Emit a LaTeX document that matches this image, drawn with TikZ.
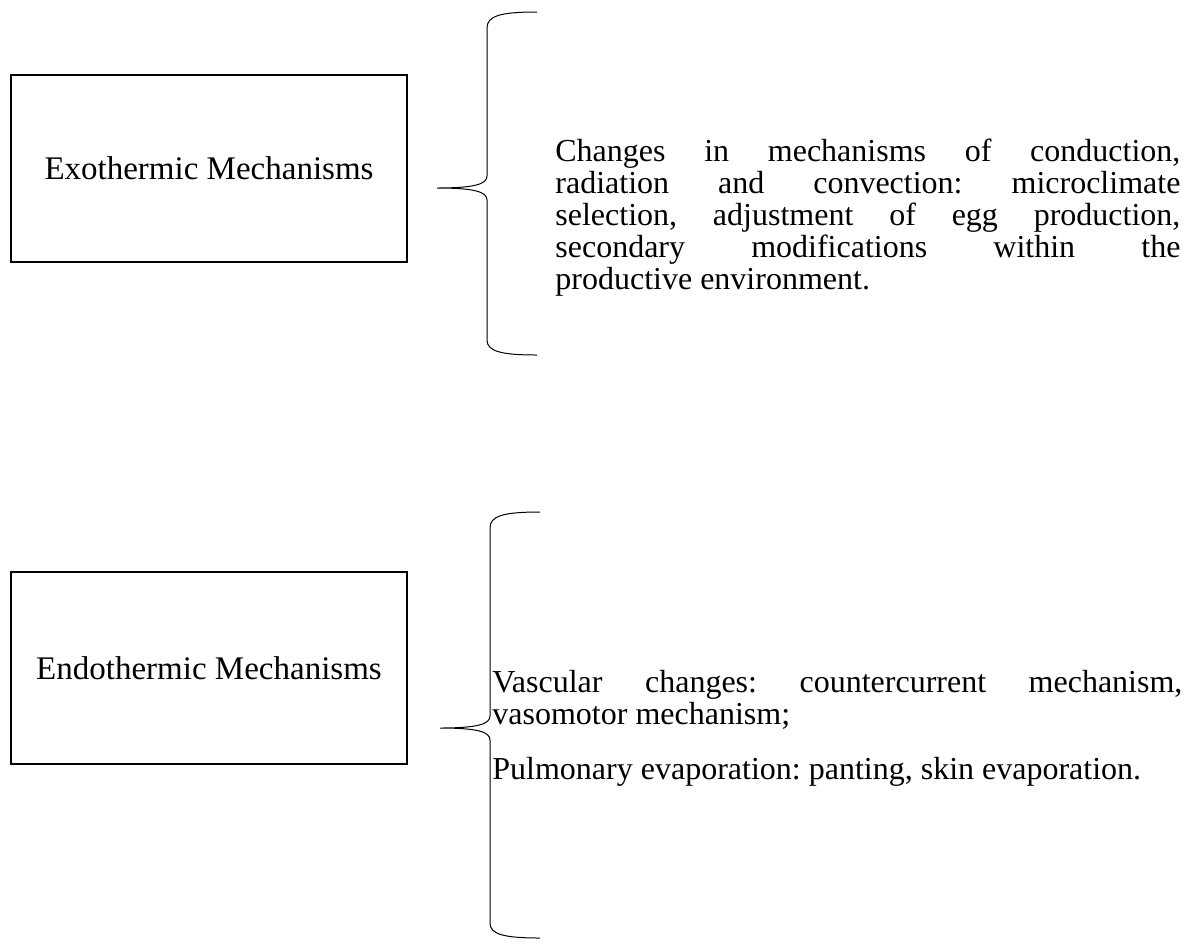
\documentclass[tikz,border=0pt]{standalone}
\usepackage{fontspec}
\setmainfont{Liberation Serif}
\usetikzlibrary{positioning,calc}
\frenchspacing

\begin{document}
\begin{tikzpicture}[
  x=0.5pt, y=-0.5pt,
  mechbox/.style={draw, line width=0.8pt, minimum width=198pt, minimum height=93.5pt,
    inner sep=0pt, font=\fontsize{16.5}{17}\selectfont},
  bracetext/.style={anchor=north west, inner sep=0pt, align=justify,
    font=\fontsize{16}{16}\selectfont},
  curly/.style={line width=0.5pt},
]
\useasboundingbox (0,0) rectangle (1189,943);

% ===== Exothermic =====
\node[mechbox] (exo) at (209,168.5) {Exothermic Mechanisms};
\coordinate (exotip) at (437,188);
\draw[curly] (537,12) .. controls (500,12) and (487,16) .. (487,28)
  -- (487,176) .. controls (487,184) and (475,188) .. (exotip)
  .. controls (475,188) and (487,192) .. (487,200)
  -- (487,340) .. controls (487,351) and (500,355) .. (537,355);
\node[bracetext, text width=312.5pt] (exotext) at (555,139)
  {Changes in mechanisms of conduction,\linebreak
   radiation and convection: microclimate\linebreak
   selection, adjustment of egg production,\linebreak
   secondary modifications within the\linebreak
   productive environment.};

% ===== Endothermic =====
\node[mechbox, minimum height=96pt] (endo) at (209,668) {Endothermic Mechanisms};
\coordinate (endotip) at (440,728);
\draw[curly] (540,512) .. controls (503,512) and (490,516) .. (490,528)
  -- (490,716) .. controls (490,724) and (478,728) .. (endotip)
  .. controls (478,728) and (490,732) .. (490,740)
  -- (490,923) .. controls (490,934) and (503,938) .. (540,938);
\node[bracetext, text width=345pt] (endotext) at (492,670)
  {Vascular changes: countercurrent mechanism,\linebreak
   vasomotor mechanism;\par\vspace{11.5pt}
   Pulmonary evaporation: panting, skin evaporation.};

\end{tikzpicture}
\end{document}
